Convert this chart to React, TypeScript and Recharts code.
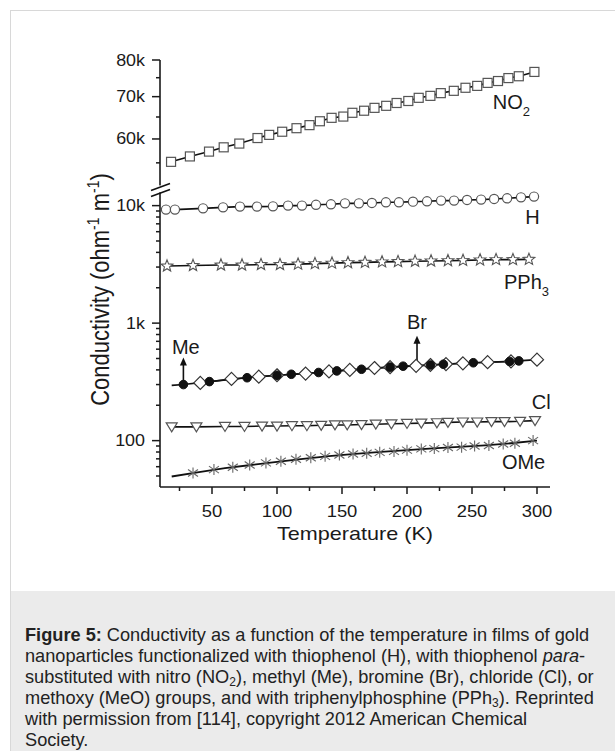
import React from "react";
import { ComposedChart, Line, XAxis, YAxis, ReferenceDot, ReferenceLine } from "recharts";

// Temperature (K) / conductivity (ohm^-1 m^-1)
const no2T = [18.5, 33, 47.7, 59, 71, 85, 94, 104, 115, 125, 133, 142, 151, 158, 167, 175, 184, 192, 201, 209, 218, 226, 236, 245, 254, 262, 270, 278, 286, 298];
const no2V = [55200, 56300, 57300, 58200, 59000, 60200, 60900, 61600, 62400, 63100, 64000, 64800, 65100, 66000, 66500, 67200, 67700, 68400, 68900, 69700, 70200, 70900, 71500, 72300, 72800, 73600, 74100, 74900, 75400, 76600];

const hT = [14.6, 21.5, 43.1, 58.5, 71.5, 84.6, 96.9, 108.5, 119.2, 130, 141.5, 152.3, 163, 173, 183.8, 193.8, 204.6, 215.4, 226.2, 236.2, 246.2, 257, 267, 277, 287.7, 297.7];
const hV = [9250, 9250, 9480, 9670, 9810, 9810, 9860, 10000, 10000, 10160, 10260, 10460, 10460, 10540, 10670, 10670, 10810, 10880, 11030, 11030, 11180, 11250, 11400, 11540, 11760, 11930];

const pph3T = [15.4, 35.4, 56.9, 73.1, 87.7, 102.3, 116.2, 129.2, 142.3, 154.6, 167.7, 180.8, 193.1, 206.2, 218.5, 231.5, 243.1, 256.2, 268.5, 281.5, 293.8];
const pph3V = [3060, 3090, 3120, 3120, 3150, 3150, 3180, 3210, 3240, 3270, 3290, 3320, 3340, 3360, 3380, 3400, 3420, 3450, 3470, 3470, 3490];

const meT = [19, 28, 48, 77, 100, 111, 132, 146, 165, 187, 197, 218, 228, 251, 279, 286];
const meV = [295, 300, 318, 343, 360, 367, 380, 392, 405, 422, 430, 440, 447, 460, 472, 477];

const brT = [41, 65, 86, 100, 122, 140, 156, 175, 187, 207, 218, 230, 243, 262, 280, 300];
const brV = [310, 335, 350, 360, 372, 388, 400, 415, 422, 433, 440, 448, 455, 465, 473, 489];

const clT = [19, 38, 60, 75, 88.5, 100, 111.5, 123, 134, 144.6, 154, 165, 176, 188, 200, 211, 223, 231.5, 243, 254, 265, 275, 287, 298.5];
const clV = [131, 131, 132, 132, 133, 133, 134, 134, 135, 136, 136, 137, 138, 139, 140, 141, 142, 143, 144, 144, 145, 145, 146, 148];

const omeT = [35.4, 51.5, 66, 79, 91.5, 103, 114.6, 126, 137, 148, 158.5, 169, 179, 190, 200, 211, 221, 231.5, 242, 252, 263, 274, 283, 297];
const omeV = [53, 56.7, 59.3, 62, 64.6, 66.7, 69.5, 71.5, 73.5, 75.5, 77, 78, 79.5, 81, 83, 85, 85.5, 87.5, 88, 90, 91, 93.5, 95, 100];

const omeFitT = [19, 40, 60, 80, 100, 120, 140, 160, 180, 200, 220, 240, 260, 280, 300];
const omeFitV = [49.5, 54, 58.3, 62, 66, 70, 73.8, 77, 80.2, 83, 85.8, 88.5, 91.2, 95, 100];

const xTicks = [25, 50, 75, 100, 125, 150, 175, 200, 225, 250, 275, 300];
const yMajor = [100, 1000, 10000, 60000, 70000, 80000];
const yMajorLabels = ["100", "1k", "10k", "60k", "70k", "80k"];
const yMinor = [50, 60, 70, 80, 90, 200, 300, 400, 500, 600, 700, 800, 900, 2000, 3000, 4000, 5000, 6000, 7000, 8000, 9000, 55000, 65000, 75000];

// broken axis: log 40..14k below the break, stretched log 50k..80k above it
const LOW_TOP = 14000;
const H = 427;
const yPos = (v: number) =>
  v > LOW_TOP ? H - 632 * Math.log10(80000 / v) : 117.5 * Math.log10(v / 40.3);

const toRows = (ts: number[], vs: number[]) => ts.map((t, i) => ({ t, y: yPos(vs[i]) }));

const FONT = "'Liberation Sans', Arial, Helvetica, sans-serif";
const INK = "#1a1a1a";
const MARK = "#555";

const majorLabel = new Map(yMajor.map((v, i) => [yPos(v), yMajorLabels[i]]));
const yTicks = [...yMajor, ...yMinor].map(yPos);

function XTick({ x, y, payload }: any) {
  const major = payload.value % 50 === 0;
  return (
    <g>
      <line x1={x} x2={x} y1={y} y2={y + (major ? 7 : 4)} stroke={INK} strokeWidth={1.5} />
      {major && (
        <text transform={`translate(${x},${y + 30}) scale(1.15,1)`} textAnchor="middle" fontSize={16} fontFamily={FONT} fill={INK}>
          {payload.value}
        </text>
      )}
    </g>
  );
}

function YTick({ x, y, payload }: any) {
  const label = majorLabel.get(payload.value);
  return (
    <g>
      <line x1={x - (label ? 8 : 4)} x2={x} y1={y} y2={y} stroke={INK} strokeWidth={1.5} />
      {label && (
        <text transform={`translate(${x - 15},${y + 5.5}) scale(1.12,1)`} textAnchor="end" fontSize={16} fontFamily={FONT} fill={INK}>
          {label}
        </text>
      )}
    </g>
  );
}

const dotOf = (draw: (cx: number, cy: number) => React.ReactNode, skipFirst = false) => (p: any) => {
  if (p.cx == null || (skipFirst && p.index === 0)) return <g key={p.index} />;
  return <g key={p.index}>{draw(p.cx, p.cy)}</g>;
};

const square = dotOf((cx, cy) => <rect x={cx - 4.5} y={cy - 4.5} width={9} height={9} fill="#fff" stroke={MARK} strokeWidth={1.2} />);
const circle = dotOf((cx, cy) => <circle cx={cx} cy={cy} r={4.6} fill="#fff" stroke={MARK} strokeWidth={1.2} />);
const star = dotOf((cx, cy) => {
  const pts: string[] = [];
  for (let i = 0; i < 10; i++) {
    const r = i % 2 === 0 ? 6.2 : 2.7;
    const a = -Math.PI / 2 + (i * Math.PI) / 5;
    pts.push(`${cx + r * Math.cos(a)},${cy + r * Math.sin(a)}`);
  }
  return <polygon points={pts.join(" ")} fill="#fff" stroke={MARK} strokeWidth={1.1} />;
});
const diamond = dotOf((cx, cy) => (
  <polygon points={`${cx},${cy - 6.5} ${cx + 6.5},${cy} ${cx},${cy + 6.5} ${cx - 6.5},${cy}`} fill="#fff" stroke="#333" strokeWidth={1.2} />
));
const filled = dotOf((cx, cy) => <circle cx={cx} cy={cy} r={4.3} fill="#111" stroke="#111" />, true);
const triangle = dotOf((cx, cy) => (
  <polygon points={`${cx - 5.5},${cy - 4} ${cx + 5.5},${cy - 4} ${cx},${cy + 5}`} fill="#fff" stroke={MARK} strokeWidth={1.2} />
));
const asterisk = dotOf((cx, cy) => (
  <g stroke="#666" strokeWidth={1.1}>
    <line x1={cx} y1={cy - 5.5} x2={cx} y2={cy + 5.5} />
    <line x1={cx - 5} y1={cy - 3.5} x2={cx + 5} y2={cy + 3.5} />
    <line x1={cx - 5} y1={cy + 3.5} x2={cx + 5} y2={cy - 3.5} />
  </g>
));

function SeriesLabel({ text, sub, anchor = "start" }: { text: string; sub?: string; anchor?: string }) {
  return (p: any) => (
    <text x={p.cx} y={p.cy} textAnchor={anchor} fontSize={20} fontFamily={FONT} fill={INK}>
      {text}
      {sub && (
        <tspan fontSize={13} dy={7}>
          {sub}
        </tspan>
      )}
    </text>
  );
}

const Arrow = (p: any) => (
  <g>
    <line x1={p.x1} y1={p.y1} x2={p.x2} y2={p.y2 + 5} stroke="#111" strokeWidth={1.6} />
    <polygon points={`${p.x2 - 3.5},${p.y2 + 7} ${p.x2 + 3.5},${p.y2 + 7} ${p.x2},${p.y2 - 1}`} fill="#111" />
  </g>
);

const AxisBreak = (p: any) => (
  <g>
    <rect x={p.cx - 3} y={p.cy - 4} width={6} height={7} fill="#fff" />
    <line x1={p.cx - 9} y1={p.cy + 1} x2={p.cx + 10} y2={p.cy - 6} stroke="#111" strokeWidth={1.6} />
    <line x1={p.cx - 9} y1={p.cy + 7} x2={p.cx + 10} y2={p.cy} stroke="#111" strokeWidth={1.6} />
  </g>
);

function ConductivityChart() {
  return (
    <ComposedChart width={615} height={591} margin={{ top: 60, right: 65, bottom: 74, left: 100 }}>
      <XAxis
        type="number"
        dataKey="t"
        domain={[10, 310]}
        ticks={xTicks}
        tick={<XTick />}
        tickLine={false}
        tickSize={0}
        tickMargin={0}
        axisLine={{ stroke: INK, strokeWidth: 1.6 }}
        height={30}
        interval={0}
        label={{
          content: (p: any) => (
            <text
              transform={`translate(${p.viewBox.x + p.viewBox.width / 2},${p.viewBox.y + 53}) scale(1.2,1)`}
              textAnchor="middle"
              fontSize={18}
              fontFamily={FONT}
              fill={INK}
            >
              Temperature (K)
            </text>
          ),
        }}
      />
      <YAxis
        type="number"
        domain={[0, H]}
        ticks={yTicks}
        tick={<YTick />}
        tickLine={false}
        tickSize={0}
        tickMargin={0}
        axisLine={{ stroke: INK, strokeWidth: 1.6 }}
        width={60}
        interval={0}
        allowDataOverflow
        label={{
          content: (p: any) => (
            <text
              transform={`translate(${p.viewBox.x + 9},${p.viewBox.y + p.viewBox.height / 2 + 16}) scale(1.15,1) rotate(-90)`}
              textAnchor="middle"
              fontSize={22}
              fontFamily={FONT}
              fill={INK}
            >
              Conductivity (ohm
              <tspan fontSize={14} dy={-9}>-1</tspan>
              <tspan dy={9}> m</tspan>
              <tspan fontSize={14} dy={-9}>-1</tspan>
              <tspan dy={9}>)</tspan>
            </text>
          ),
        }}
      />

      <Line data={toRows(no2T, no2V)} dataKey="y" stroke="#111" strokeWidth={1.6} dot={square} activeDot={false} isAnimationActive={false} />
      <Line data={toRows(hT, hV)} dataKey="y" stroke="#111" strokeWidth={1.6} dot={circle} activeDot={false} isAnimationActive={false} />
      <Line data={toRows(pph3T, pph3V)} dataKey="y" stroke="#111" strokeWidth={1.6} dot={star} activeDot={false} isAnimationActive={false} />
      <Line data={toRows(brT, brV)} dataKey="y" stroke="#111" strokeWidth={1.6} dot={diamond} activeDot={false} isAnimationActive={false} />
      <Line data={toRows(meT, meV)} dataKey="y" stroke="#111" strokeWidth={1.6} dot={filled} activeDot={false} isAnimationActive={false} />
      <Line data={toRows(clT, clV)} dataKey="y" stroke="#111" strokeWidth={1.6} dot={triangle} activeDot={false} isAnimationActive={false} />
      <Line data={toRows(omeT, omeV)} dataKey="y" stroke="none" dot={asterisk} activeDot={false} isAnimationActive={false} />
      <Line data={toRows(omeFitT, omeFitV)} dataKey="y" stroke="#111" strokeWidth={1.8} dot={false} activeDot={false} isAnimationActive={false} />

      <ReferenceLine segment={[{ x: 28, y: yPos(320) }, { x: 28, y: yPos(500) }]} shape={Arrow} ifOverflow="visible" />
      <ReferenceLine segment={[{ x: 207.7, y: yPos(470) }, { x: 207.7, y: yPos(767) }]} shape={Arrow} ifOverflow="visible" />

      <ReferenceDot x={266} y={yPos(66900)} r={0} shape={SeriesLabel({ text: "NO", sub: "2" })} ifOverflow="visible" />
      <ReferenceDot x={291} y={yPos(7030)} r={0} shape={SeriesLabel({ text: "H" })} ifOverflow="visible" />
      <ReferenceDot x={274.6} y={yPos(1967)} r={0} shape={SeriesLabel({ text: "PPh", sub: "3" })} ifOverflow="visible" />
      <ReferenceDot x={207.7} y={yPos(898)} r={0} shape={SeriesLabel({ text: "Br", anchor: "middle" })} ifOverflow="visible" />
      <ReferenceDot x={19.2} y={yPos(550)} r={0} shape={SeriesLabel({ text: "Me" })} ifOverflow="visible" />
      <ReferenceDot x={296} y={yPos(187)} r={0} shape={SeriesLabel({ text: "Cl" })} ifOverflow="visible" />
      <ReferenceDot x={273} y={yPos(57.8)} r={0} shape={SeriesLabel({ text: "OMe" })} ifOverflow="visible" />

      <ReferenceDot x={10} y={yPos(LOW_TOP) - 1} r={0} shape={AxisBreak} ifOverflow="visible" />
    </ComposedChart>
  );
}

// subscript nudged down without growing the 21px line box
const SUB: React.CSSProperties = { fontSize: 12, verticalAlign: "baseline", position: "relative", top: 3, lineHeight: 0 };

const captionLines: React.ReactNode[] = [
  <>
    <b>Figure 5:</b> Conductivity as a function of the temperature in films of gold
  </>,
  <>
    nanoparticles functionalized with thiophenol (H), with thiophenol <i>para</i>-
  </>,
  <>
    substituted with nitro (NO<span style={SUB}>2</span>), methyl (Me), bromine (Br), chloride (Cl), or
  </>,
  <>
    methoxy (MeO) groups, and with triphenylphosphine (PPh<span style={SUB}>3</span>). Reprinted
  </>,
  <>with permission from [114], copyright 2012 American Chemical</>,
  <>Society.</>,
];

export default function App() {
  return (
    <div style={{ position: "relative", width: 615, height: 751, overflow: "hidden", background: "#fff" }}>
      <style>{"body{margin:0}"}</style>
      <div style={{ position: "absolute", left: 10, top: 10, width: 640, height: 800, border: "1px solid #d8d8d8", boxSizing: "border-box" }} />
      <div style={{ position: "absolute", left: 0, top: 0 }}>
        <ConductivityChart />
      </div>
      <div style={{ position: "absolute", left: 11, top: 591, width: 640, height: 200, background: "#ebebeb" }}>
        <div style={{ position: "absolute", left: 14, top: 34, fontFamily: FONT, fontSize: 18.2, lineHeight: "21px", color: "#222" }}>
          {captionLines.map((l, i) => (
            <div key={i} style={{ whiteSpace: "nowrap", height: 21, lineHeight: "21px" }}>
              {l}
            </div>
          ))}
        </div>
      </div>
    </div>
  );
}
